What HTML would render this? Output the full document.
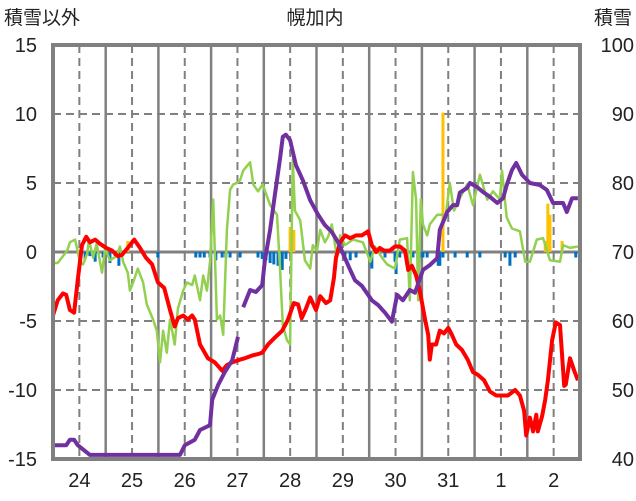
<!DOCTYPE html>
<html><head><meta charset="utf-8">
<style>
body{margin:0;background:#fff;}
svg{display:block;font-family:"Liberation Sans","Noto Sans CJK JP",sans-serif;}
</style></head>
<body>
<svg id="chart" width="636" height="501" xmlns="http://www.w3.org/2000/svg">
<rect width="636" height="501" fill="#fff"/>
<g id="grid"></g>
<g id="bars"></g>
<g id="lines"></g>
<g id="frame"></g>
<g id="labels"></g>
<text x="4" y="24" font-size="19" fill="#222">積雪以外</text>
<text x="315" y="24" font-size="19" fill="#222" text-anchor="middle">幌加内</text>
<text x="632" y="24" font-size="19" fill="#222" text-anchor="end">積雪</text>
</svg>
<script>
const dayLabels=["24","25","26","27","28","29","30","31","1","2"];
const leftTicks=[15,10,5,0,-5,-10,-15];
const rightTicks=[100,90,80,70,60,50,40];
const redT=[0,.09,.19,.25,.32,.40,.47,.55,.63,.70,.80,.89,1.01,1.12,1.23,1.31,1.42,1.54,1.65,1.76,1.88,1.99,2.11,2.22,2.31,2.37,2.47,2.56,2.64,2.69,2.79,2.94,3.07,3.21,3.30,3.40,3.55,3.64,3.78,3.89,3.97,4.08,4.21,4.35,4.46,4.57,4.65,4.72,4.80,4.88,4.99,5.07,5.18,5.26,5.33,5.37,5.45,5.54,5.64,5.75,5.86,5.98,6.05,6.13,6.20,6.28,6.39,6.49,6.58,6.68,6.74,6.81,6.89,6.96,7.06,7.12,7.15,7.19,7.27,7.34,7.42,7.50,7.53,7.57,7.65,7.76,7.87,7.97,8.06,8.18,8.29,8.41,8.52,8.63,8.77,8.86,8.94,8.98,9.05,9.11,9.17,9.20,9.28,9.34,9.39,9.47,9.54,9.62,9.70,9.73,9.81,9.89,9.96];
const redV=[-4.6,-3.5,-3.0,-3.1,-4.2,-4.4,-2.0,0.5,1.1,0.7,0.9,0.6,0.3,0.1,-0.3,-0.2,0.3,0.9,0.3,-0.4,-0.9,-2.2,-2.6,-4.2,-5.4,-4.8,-4.6,-4.9,-4.6,-4.9,-6.7,-7.7,-8.0,-8.6,-8.2,-8.0,-7.8,-7.7,-7.5,-7.4,-7.3,-6.7,-6.2,-5.7,-4.9,-3.7,-3.8,-4.8,-4.1,-3.3,-4.2,-3.2,-3.7,-3.5,-1.9,-0.4,0.7,1.2,1.0,1.2,1.2,1.5,0.5,0,0.3,0.1,0.1,0.4,0.4,0.1,-1.3,-1.0,-1.7,-2.8,-4.9,-6.0,-7.8,-6.7,-6.7,-5.7,-5.9,-5.5,-5.7,-6.0,-6.7,-7.1,-7.8,-8.7,-8.9,-9.3,-10.1,-10.4,-10.4,-10.4,-10.0,-10.4,-11.5,-13.3,-12.0,-13.0,-11.8,-13.0,-11.9,-10.7,-9.3,-6.4,-5.1,-5.3,-9.7,-9.6,-7.7,-8.6,-9.3];
const purpleT=[0,.25,.32,.40,.47,.70,2.41,2.50,2.69,2.79,2.98,3.02,3.13,3.26,3.40,3.51,3.61,3.74,3.85,3.97,4.02,4.12,4.21,4.31,4.36,4.42,4.50,4.61,4.74,4.88,5.03,5.16,5.29,5.41,5.54,5.64,5.73,5.86,5.98,6.05,6.17,6.30,6.43,6.53,6.64,6.77,6.87,7.02,7.15,7.29,7.34,7.48,7.59,7.67,7.72,7.86,7.91,8.05,8.16,8.29,8.43,8.54,8.61,8.71,8.79,8.90,9.05,9.24,9.37,9.49,9.68,9.75,9.85,9.96];
const purpleV=[42.0,42.0,42.8,42.8,42.0,40.6,40.6,42.0,42.8,44.2,44.9,48.6,50.7,52.6,54.3,57.7,62.0,64.5,64.2,65.2,68.8,73.2,78.3,83.6,86.7,87.0,86.2,82.6,80.4,77.5,75.4,73.9,72.9,71.4,69.1,67.4,65.9,65.1,63.8,63.0,62.3,61.2,59.9,63.8,63.0,64.5,64.1,67.4,68.1,69.1,73.2,75.8,76.8,76.8,78.6,79.3,80.0,79.4,78.7,78.0,77.1,77.8,79.7,81.9,82.9,81.2,80.0,79.7,79.0,77.1,77.1,75.8,77.8,77.8];
const purpleGapAfter=3.51;
const greenT=[0,.09,.27,.32,.42,.51,.57,.65,.68,.76,.83,.93,.99,1.08,1.21,1.27,1.33,1.42,1.46,1.52,1.61,1.71,1.78,1.90,1.97,2.03,2.09,2.16,2.22,2.31,2.37,2.47,2.54,2.64,2.69,2.79,2.85,2.92,2.98,3.04,3.11,3.17,3.23,3.30,3.36,3.42,3.49,3.55,3.61,3.74,3.80,3.89,3.98,4.12,4.25,4.31,4.36,4.44,4.50,4.55,4.59,4.69,4.78,4.88,4.93,5.01,5.07,5.16,5.22,5.29,5.39,5.45,5.54,5.69,5.88,6.02,6.11,6.24,6.34,6.49,6.58,6.72,6.77,6.83,6.89,6.93,6.98,7.02,7.10,7.15,7.29,7.40,7.44,7.53,7.61,7.72,7.86,7.97,8.10,8.24,8.35,8.48,8.52,8.61,8.71,8.86,8.96,9.05,9.18,9.30,9.43,9.62,9.68,9.81,9.96];
const greenV=[-0.8,-0.8,0.1,0.7,0.9,-0.7,-0.9,-0.1,0.9,-0.4,0.6,-1.5,0.3,-0.6,-0.3,0.4,-0.7,-1.5,-2.8,-2.2,-1.2,-2.2,-3.8,-4.9,-5.7,-8.0,-5.7,-7.3,-4.9,-6.7,-4.1,-2.8,-2.2,-2.4,-1.7,-3.5,-1.7,-2.8,-0.7,3.8,-4.9,-4.6,-6.0,1.6,4.5,4.9,5.0,5.2,5.9,6.5,4.9,4.4,4.9,3.4,2.7,-1.3,-5.3,-6.4,-6.7,6.7,3.0,2.3,-0.6,-1.2,0.5,0.1,1.6,0.7,1.1,2.0,-0.4,1.2,0.5,0.9,0.7,-0.7,0.4,-0.4,-0.9,-1.2,0.9,1.0,-3.5,5.8,3.8,-3.5,3.8,2.0,1.2,2.0,2.7,2.7,2.3,5.0,3.0,3.9,4.9,3.4,5.6,3.8,4.4,3.8,5.9,2.5,1.7,1.5,-0.7,-0.7,0.9,1.0,-0.6,-0.7,0.5,0.3,0.4];
const blueT=[.61,.70,.80,.95,1.08,1.18,1.25,1.99,2.71,2.79,2.87,2.98,3.09,3.21,3.28,3.36,3.55,3.89,3.97,4.04,4.12,4.19,4.27,4.35,4.42,5.54,5.64,5.75,6.02,6.05,6.30,6.49,6.51,6.58,6.83,6.96,7.02,7.10,7.31,7.34,7.40,7.63,7.86,8.10,8.58,8.67,8.77,9.92];
const blueV=[-0.5,-0.3,-0.7,-0.4,-0.8,-0.3,-1.0,-0.4,-0.4,-0.4,-0.4,-0.4,-0.6,-0.4,-0.4,-0.4,-0.4,-0.4,-0.5,-0.6,-0.8,-0.9,-1.0,-1.3,-0.5,-0.4,-0.6,-0.4,-0.5,-1.2,-0.4,-0.7,-1.6,-0.4,-0.4,-0.4,-0.4,-0.4,-1.0,-1.0,-0.4,-0.4,-0.4,-0.4,-0.4,-1.0,-0.4,-0.4];
const yellowT=[1.42,4.50,4.57,7.40,9.34,9.39,9.43,9.66];
const yellowV=[0.8,1.8,1.6,10.1,0.8,3.5,2.7,0.8];

const NS="http://www.w3.org/2000/svg";
const X0=53,X1=580,Y0=45,Y1=459;
const xs=t=>X0+(X1-X0)*t/10;
const yl=v=>Y1-(v+15)/30*(Y1-Y0);
const yr=v=>Y1-(v-40)/60*(Y1-Y0);
function mk(tag,attrs,parent){const e=document.createElementNS(NS,tag);for(const k in attrs)e.setAttribute(k,attrs[k]);document.getElementById(parent).appendChild(e);return e;}
for(let i=1;i<10;i++){
 const l=mk('line',{x1:xs(i),x2:xs(i),y1:Y0,y2:Y1,stroke:'#808080','stroke-width':2.5},'grid');
 
 
}
for(let i=0;i<10;i++){
 const l=mk('line',{x1:xs(i+.5),x2:xs(i+.5),y1:Y0,y2:Y1,stroke:'#808080','stroke-width':2,'stroke-dasharray':'8,5'},'grid');
 
 
}
leftTicks.forEach(v=>{
 if(v===15||v===-15)return;
 const l=mk('line',{x1:X0,x2:X1,y1:yl(v),y2:yl(v),stroke:'#808080','stroke-width':v===0?3:2,'stroke-dasharray':v===0?'none':'8,5'},'grid');
 
 
});
blueT.forEach((t,i)=>{
 const r=mk('rect',{x:xs(t)-1.5,y:yl(0),width:3,height:yl(blueV[i])-yl(0),fill:'#0070C0'},'bars');
 
 
});
yellowT.forEach((t,i)=>{
 const r=mk('rect',{x:xs(t)-1.5,y:yl(yellowV[i]),width:3,height:yl(0)-yl(yellowV[i]),fill:'#FFC000'},'bars');
 
 
});
function line(T,V,sc,color,w,name,gap){
 const d=T.map((t,i)=>((i===0||(gap!==undefined&&T[i-1]===gap))?'M':'L')+xs(t).toFixed(1)+','+sc(V[i]).toFixed(1)).join('');
 const p=mk('path',{d:d,fill:'none',stroke:color,'stroke-width':w,'stroke-linejoin':'round'},'lines');
 
 
}
line(greenT,greenV,yl,'#92D050',2.5,'green-series-line');
line(redT,redV,yl,'#FF0000',4,'temperature-line');
line(purpleT,purpleV,yr,'#7030A0',4,'snow-depth-line',purpleGapAfter);
const f=mk('rect',{x:X0,y:Y0,width:X1-X0,height:Y1-Y0,fill:'none',stroke:'#808080','stroke-width':4},'frame');


leftTicks.forEach(v=>{
 const t=mk('text',{x:37,y:yl(v)+7,'font-size':20,'text-anchor':'end',fill:'#222'},'labels');
 t.textContent=v;
 
 
});
rightTicks.forEach(v=>{
 const t=mk('text',{x:634,y:yr(v)+7,'font-size':20,'text-anchor':'end',fill:'#222'},'labels');
 t.textContent=v;
 
 
});
dayLabels.forEach((s,i)=>{
 const t=mk('text',{x:xs(i+.5),y:487,'font-size':20,'text-anchor':'middle',fill:'#222'},'labels');
 t.textContent=s;
 
 
});
</script>
</body></html>
